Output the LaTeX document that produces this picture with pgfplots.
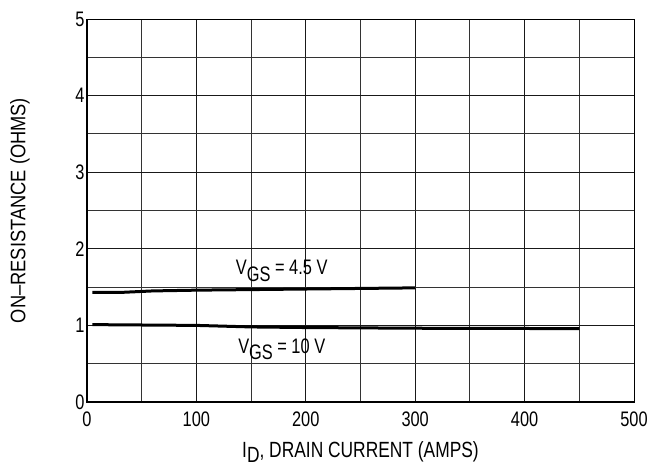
\documentclass[border=0pt]{standalone}
\usepackage{pgfplots}
\pgfplotsset{compat=1.18}
\usepackage{fontspec}
\setmainfont[FakeStretch=0.78]{Liberation Sans}
\newfontfamily\xlabfont[FakeStretch=0.79]{Liberation Sans}
\newfontfamily\ylabfont[FakeStretch=0.87]{Liberation Sans}
\begin{document}
\begin{tikzpicture}
\useasboundingbox (0,0) rectangle (649pt,469pt);
\begin{axis}[
  at={(87pt,67pt)}, anchor=south west,
  width=547pt, height=383pt, scale only axis,
  xmin=0, xmax=500, ymin=0, ymax=5,
  xtick={0,100,...,500}, minor xtick={50,150,...,450},
  ytick={0,1,...,5}, minor ytick={0.5,1.5,...,4.5},
  grid=both,
  major grid style={black!90, line width=0.9pt},
  minor grid style={black!80, line width=0.9pt},
  major tick length=0pt, minor tick length=0pt,
  axis line style={black, line width=0.9pt},
  /pgf/number format/assume math mode=true,
  tick label style={font=\fontsize{21}{24}\selectfont},
  xticklabel style={yshift=-6pt},
  yticklabel style={xshift=1pt},
  xlabel={\xlabfont\fontsize{22}{24}\selectfont I\raisebox{-0.42ex}{D}, DRAIN CURRENT (AMPS)},
  ylabel={\ylabfont\fontsize{21}{24}\selectfont ON–RESISTANCE (OHMS)},
  xlabel style={at={(axis description cs:0.5,-0.145)}, anchor=base, inner sep=0pt},
  ylabel style={at={(axis description cs:-0.1225,0.5)}, anchor=center},
  clip=false,
]
\addplot[black, line width=3pt] coordinates {
(5,1.43) (30,1.43) (60,1.45) (100,1.46) (200,1.475) (300,1.49)};
\addplot[black, line width=3pt] coordinates {
(5,1.01) (100,1.0) (150,0.98) (200,0.972) (300,0.963) (450,0.958)};
\node[font=\fontsize{21}{24}\selectfont] at (axis cs:178,1.71) {V\raisebox{-0.6ex}{GS} = 4.5 V};
\node[font=\fontsize{21}{24}\selectfont] at (axis cs:178,0.69) {V\raisebox{-0.6ex}{GS} = 10 V};
\draw[black, line width=2.4pt] (rel axis cs:0,1) -- (rel axis cs:0,0) -- (rel axis cs:1,0);
\end{axis}
\end{tikzpicture}
\end{document}
